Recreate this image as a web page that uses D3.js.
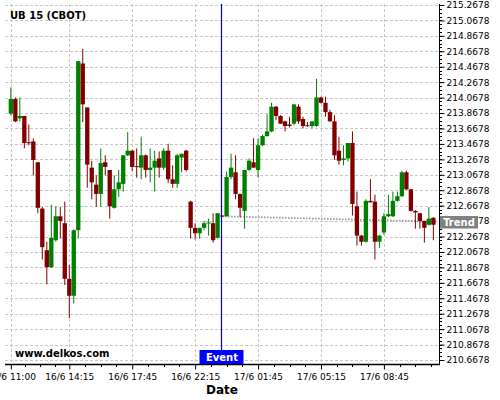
<!DOCTYPE html>
<html>
<head>
<meta charset="utf-8">
<script src="https://cdnjs.cloudflare.com/ajax/libs/d3/7.8.5/d3.min.js"></script>
<style>
    body { margin: 0; background: #fff; }
    text { font-family: "DejaVu Sans", sans-serif; }
</style>
</head>
<body>
<div id="chart"></div>
<script>
// 15 min candles, one per index
let opens = [213.86, 214.05, 213.80, 213.83, 213.49, 213.50, 213.23, 212.63, 212.09, 211.87,
    212.22, 212.53, 212.44, 211.72, 211.50, 212.35, 214.51, 213.94, 213.16, 212.94,
    212.82, 213.23, 213.13, 212.64, 212.88, 212.95, 213.32, 213.38, 213.18, 213.16,
    213.32, 213.13, 213.16, 213.28, 213.16, 213.38, 213.01, 212.95, 213.29, 213.38,
    212.72, 212.38, 212.31, 212.38, 212.44, 212.44, 212.25, 212.54, 212.53, 213.04,
    213.10, 212.82, 212.60, 213.13, 213.23, 213.13, 213.45, 213.57, 213.63, 213.95,
    213.83, 213.76, 213.72, 213.73, 213.95, 213.79, 213.71, 213.70, 213.70, 214.07,
    214.00, 213.88, 213.76, 213.38, 213.26, 213.28, 213.48, 212.66, 212.28, 212.20,
    212.73, 212.72, 212.20, 212.32, 212.53, 212.53, 212.73, 212.79, 213.10, 212.88,
    212.60, 212.57, 212.47, 212.42, 212.51];
let highs = [214.20, 214.07, 214.07, 213.83, 213.72, 213.54, 213.23, 212.65, 212.20, 212.68,
    212.66, 212.65, 212.72, 211.90, 212.36, 214.54, 214.70, 213.94, 213.25, 213.06,
    213.41, 213.32, 213.13, 213.06, 213.13, 213.32, 213.62, 213.39, 213.41, 213.56,
    213.33, 213.41, 213.38, 213.37, 213.41, 213.47, 213.19, 213.34, 213.34, 213.39,
    212.73, 212.44, 212.38, 212.47, 212.50, 212.57, 212.57, 212.54, 213.11, 213.34,
    213.32, 212.82, 213.13, 213.28, 213.54, 213.54, 213.59, 213.85, 214.00, 213.96,
    213.84, 213.77, 213.82, 213.98, 213.98, 213.82, 213.75, 213.76, 214.31, 214.08,
    214.08, 213.91, 213.84, 213.56, 213.45, 213.48, 213.63, 212.85, 212.29, 212.75,
    213.01, 212.81, 212.29, 212.57, 212.81, 212.85, 212.85, 213.12, 213.12, 212.88,
    212.61, 212.57, 212.47, 212.65, 212.52];
let lows = [213.84, 213.75, 213.76, 213.41, 213.45, 213.06, 212.57, 211.97, 211.65, 211.86,
    212.20, 212.24, 211.64, 211.21, 211.40, 212.24, 213.75, 212.90, 212.75, 212.65,
    212.65, 213.06, 212.50, 212.63, 212.78, 212.85, 213.31, 213.12, 213.03, 213.01,
    213.03, 212.97, 212.85, 213.03, 213.13, 212.96, 212.90, 212.90, 213.10, 213.11,
    212.24, 212.23, 212.24, 212.35, 212.28, 212.19, 212.24, 212.53, 212.53, 213.01,
    212.75, 212.52, 212.37, 213.12, 213.16, 213.03, 213.44, 213.56, 213.62, 213.78,
    213.73, 213.63, 213.68, 213.71, 213.73, 213.67, 213.69, 213.67, 213.69, 213.99,
    213.82, 213.76, 213.26, 213.20, 213.19, 213.24, 212.54, 212.15, 212.15, 212.19,
    212.71, 211.97, 212.12, 212.29, 212.52, 212.52, 212.72, 212.78, 212.87, 212.59,
    212.37, 212.37, 212.19, 212.41, 212.22];
let closes = [214.05, 213.76, 213.83, 213.48, 213.48, 213.26, 212.64, 212.13, 211.87, 212.25,
    212.53, 212.47, 211.72, 211.50, 212.35, 214.54, 213.98, 213.20, 212.97, 212.82,
    213.22, 213.17, 212.66, 212.88, 212.97, 213.32, 213.38, 213.17, 213.17, 213.32,
    213.13, 213.16, 213.25, 213.16, 213.38, 213.01, 212.95, 213.32, 213.34, 213.13,
    212.38, 212.31, 212.38, 212.44, 212.45, 212.22, 212.57, 212.53, 213.04, 213.16,
    212.82, 212.64, 213.13, 213.25, 213.16, 213.45, 213.57, 213.63, 213.95, 213.83,
    213.73, 213.70, 213.70, 213.98, 213.76, 213.70, 213.70, 213.76, 214.07, 214.00,
    213.88, 213.76, 213.32, 213.25, 213.28, 213.48, 212.69, 212.28, 212.20, 212.73,
    212.71, 212.20, 212.28, 212.53, 212.56, 212.73, 212.79, 213.10, 212.88, 212.60,
    212.58, 212.47, 212.38, 212.50, 212.42];

let dateTickIndex = [0, 13, 27, 41, 55, 69, 83];
let dateTickLabels = ["16/6 11:00", "16/6 14:15", "16/6 17:45", "16/6 22:15",
    "17/6 01:45", "17/6 05:15", "17/6 08:45"];
let priceTicks = [210.6678, 210.8678, 211.0678, 211.2678, 211.4678, 211.6678, 211.8678,
    212.0678, 212.2678, 212.4678, 212.6678, 212.8678, 213.0678, 213.2678, 213.4678,
    213.6678, 213.8678, 214.0678, 214.2678, 214.4678, 214.6678, 214.8678, 215.0678, 215.2678];

let eventIndex = 47;
let trendIndex = [47, 95];
let trendValue = [212.53, 212.46];

let opt = {
    width: 500,
    height: 400,
    left: 5,
    right: 439,
    top: 4,
    bottom: 364
};

let svg = d3.select("#chart").append("svg")
    .attr("width", opt.width)
    .attr("height", opt.height);

let x = d3.scaleLinear().domain([-0.5, opens.length - 0.5]).range([8.6, 435.6]);
let y = d3.scaleLinear().domain([210.6678, 215.2678]).range([360, 5]);
let step = x(1) - x(0);

//grid
let grid = svg.append("g").attr("class", "grid");
priceTicks.forEach(function (v) {
    grid.append("line")
        .attr("x1", opt.left).attr("x2", opt.right)
        .attr("y1", Math.round(y(v)) + 0.5).attr("y2", Math.round(y(v)) + 0.5)
        .attr("stroke", "#c8c8c8")
        .attr("stroke-dasharray", "3,2");
});
dateTickIndex.forEach(function (i) {
    grid.append("line")
        .attr("x1", Math.round(x(i)) + 0.5).attr("x2", Math.round(x(i)) + 0.5)
        .attr("y1", opt.top).attr("y2", opt.bottom)
        .attr("stroke", "#c8c8c8")
        .attr("stroke-dasharray", "3,2");
});

//trend
svg.append("line")
    .attr("x1", x(trendIndex[0])).attr("y1", y(trendValue[0]))
    .attr("x2", x(trendIndex[1])).attr("y2", y(trendValue[1]))
    .attr("stroke", "#9a9a9a")
    .attr("stroke-width", 1.8)
    .attr("stroke-dasharray", "1.5,1.5");

//candles
let candles = svg.append("g").selectAll("g")
    .data(d3.range(opens.length))
    .enter()
    .append("g");

candles.append("line")
    .attr("x1", function (i) { return x(i); })
    .attr("x2", function (i) { return x(i); })
    .attr("y1", function (i) { return y(highs[i]); })
    .attr("y2", function (i) { return y(lows[i]); })
    .attr("stroke", function (i) { return closes[i] >= opens[i] ? "#008000" : "#800000"; })
    .attr("stroke-width", 1);

candles.append("rect")
    .attr("x", function (i) { return x(i) - step * 0.48; })
    .attr("width", step * 0.96)
    .attr("y", function (i) { return y(Math.max(opens[i], closes[i])); })
    .attr("height", function (i) {
        return Math.max(1, Math.abs(y(opens[i]) - y(closes[i])));
    })
    .attr("fill", function (i) { return closes[i] >= opens[i] ? "#008000" : "#800000"; });

//event line
let ex = Math.round(x(eventIndex)) - 0.5;
svg.append("line")
    .attr("x1", ex).attr("x2", ex)
    .attr("y1", opt.top).attr("y2", 350)
    .attr("stroke", "#0000dd")
    .attr("stroke-width", 1.2);

//axes
let yAxis = d3.axisRight(y)
    .tickValues(priceTicks)
    .tickSize(5)
    .tickSizeOuter(0)
    .tickPadding(2)
    .tickFormat(d3.format(".4f"));

let ya = svg.append("g")
    .attr("transform", "translate(" + (opt.right + 0.5) + ",0)")
    .call(yAxis);
ya.select(".domain").remove();
ya.selectAll("text").attr("font-size", 9).attr("fill", "#000")
    .style("font-family", "'DejaVu Sans', sans-serif");

d3.range(210.6678, 215.27, 0.05).forEach(function (v) {
    svg.append("line")
        .attr("x1", opt.right).attr("x2", opt.right + 3)
        .attr("y1", Math.round(y(v)) + 0.5).attr("y2", Math.round(y(v)) + 0.5)
        .attr("stroke", "#000");
});

svg.append("line")
    .attr("x1", opt.right + 0.5).attr("x2", opt.right + 0.5)
    .attr("y1", opt.top).attr("y2", opt.bottom + 1)
    .attr("stroke", "#000");
svg.append("line")
    .attr("x1", opt.left).attr("x2", opt.right + 1)
    .attr("y1", opt.bottom + 0.5).attr("y2", opt.bottom + 0.5)
    .attr("stroke", "#000")
    .attr("stroke-width", 1.5);

let xAxis = d3.axisBottom(x)
    .tickValues(dateTickIndex)
    .tickSize(5)
    .tickSizeOuter(0)
    .tickPadding(4)
    .tickFormat(function (d, i) { return dateTickLabels[i]; });

let xa = svg.append("g")
    .attr("transform", "translate(0," + (opt.bottom + 0.5) + ")")
    .call(xAxis);
xa.select(".domain").remove();
xa.selectAll("text").attr("font-size", 9).attr("fill", "#000")
    .style("font-family", "'DejaVu Sans', sans-serif");

//minor date ticks
let minor = [];
for (let k = 0; k < dateTickIndex.length; k++) {
    let a = dateTickIndex[k],
        b = k + 1 < dateTickIndex.length ? dateTickIndex[k + 1] : a + 14;
    for (let m = 1; m < 4; m++) minor.push(a + (b - a) * m / 4);
}
minor.forEach(function (i) {
    svg.append("line")
        .attr("x1", Math.round(x(i)) + 0.5).attr("x2", Math.round(x(i)) + 0.5)
        .attr("y1", opt.bottom).attr("y2", opt.bottom + 3)
        .attr("stroke", "#000");
});

//texts
svg.append("text")
    .attr("x", 10).attr("y", 19)
    .attr("font-size", 10).attr("font-weight", "bold")
    .text("UB 15 (CBOT)");

svg.append("text")
    .attr("x", 15).attr("y", 357)
    .attr("font-size", 10).attr("font-weight", "bold")
    .text("www.delkos.com");

svg.append("text")
    .attr("x", 222).attr("y", 394)
    .attr("text-anchor", "middle")
    .attr("font-size", 12).attr("font-weight", "bold")
    .text("Date");

//labels
svg.append("rect")
    .attr("x", ex - 22).attr("y", 350)
    .attr("width", 44).attr("height", 14)
    .attr("fill", "#0000ff");
svg.append("text")
    .attr("x", ex + 0.5).attr("y", 361)
    .attr("text-anchor", "middle")
    .attr("font-size", 10).attr("font-weight", "bold")
    .attr("fill", "#fff")
    .text("Event");

svg.append("rect")
    .attr("x", opt.right + 1).attr("y", 216)
    .attr("width", 38).attr("height", 12.5)
    .attr("fill", "#808080");
svg.append("text")
    .attr("x", opt.right + 20).attr("y", 226)
    .attr("text-anchor", "middle")
    .attr("font-size", 10).attr("font-weight", "bold")
    .attr("fill", "#fff")
    .text("Trend");
</script>
</body>
</html>
